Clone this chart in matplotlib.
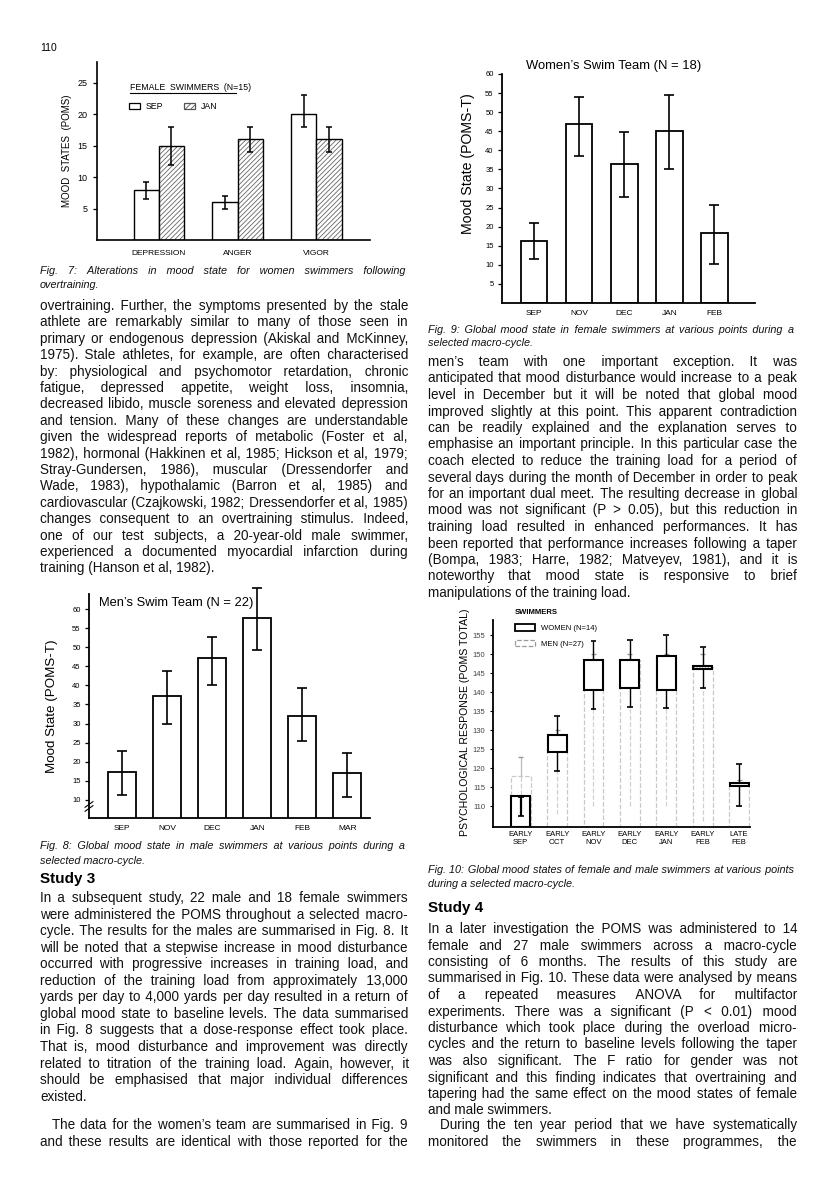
import matplotlib
matplotlib.use('Agg')
import matplotlib.pyplot as plt
from matplotlib.font_manager import FontProperties, findfont
from matplotlib.ft2font import FT2Font
from matplotlib.patches import Patch
from matplotlib.lines import Line2D
import numpy as np

W, H = 816, 1182
plt.rcParams['font.family'] = 'Liberation Sans'
plt.rcParams['hatch.linewidth'] = 0.6

# ---- Fig. 7: mood states, female swimmers (N=15)
fig7_groups = ['DEPRESSION', 'ANGER', 'VIGOR']
fig7_sep = [8.0, 6.0, 20.0]
fig7_sep_lo = [6.5, 5.0, 18.0]
fig7_sep_hi = [9.2, 7.0, 23.0]
fig7_jan = [15.0, 16.0, 16.0]
fig7_jan_lo = [12.0, 14.0, 14.0]
fig7_jan_hi = [18.0, 18.0, 18.0]

# ---- Fig. 8: men's swim team (N=22)
fig8_months = ['SEP', 'NOV', 'DEC', 'JAN', 'FEB', 'MAR']
fig8_mean = [17.2, 37.3, 47.3, 57.8, 32.0, 17.0]
fig8_lo = [11.2, 30.0, 40.0, 49.2, 25.5, 10.8]
fig8_hi = [22.7, 43.7, 52.8, 65.5, 39.3, 22.2]

# ---- Fig. 9: women's swim team (N=18)
fig9_months = ['SEP', 'NOV', 'DEC', 'JAN', 'FEB']
fig9_mean = [16.3, 46.8, 36.5, 45.0, 18.3]
fig9_lo = [11.5, 38.5, 27.8, 35.0, 10.3]
fig9_hi = [21.0, 54.0, 44.7, 54.5, 25.7]

# ---- Fig. 10: POMS total, women (N=14) and men (N=27)
fig10_labels = ['EARLY\nSEP', 'EARLY\nOCT', 'EARLY\nNOV', 'EARLY\nDEC',
                'EARLY\nJAN', 'EARLY\nFEB', 'LATE\nFEB']
women_lo = [107.5, 119.3, 135.6, 136.2, 135.7, 141.0, 110.0]
women_q1 = [104.5, 124.2, 140.5, 141.2, 140.6, 146.0, 115.2]
women_q3 = [112.7, 128.6, 148.6, 148.6, 149.6, 147.0, 116.0]
women_hi = [112.3, 133.8, 153.6, 153.7, 155.0, 152.0, 121.0]
men_lo = [106.0, 108.0, 110.0, 110.0, 110.0, 106.0, 110.0]
men_q3 = [118.0, 128.6, 148.6, 148.6, 149.6, 146.5, 116.0]
men_hi = [123.0, 130.0, 150.0, 150.0, 150.0, 150.0, 117.0]

# ---- page text
left_top = [
    "overtraining. Further, the symptoms presented by the stale",
    "athlete are remarkably similar to many of those seen in",
    "primary or endogenous depression (Akiskal and McKinney,",
    "1975). Stale athletes, for example, are often characterised",
    "by: physiological and psychomotor retardation, chronic",
    "fatigue, depressed appetite, weight loss, insomnia,",
    "decreased libido, muscle soreness and elevated depression",
    "and tension. Many of these changes are understandable",
    "given the widespread reports of metabolic (Foster et al,",
    "1982), hormonal (Hakkinen et al, 1985; Hickson et al, 1979;",
    "Stray-Gundersen, 1986), muscular (Dressendorfer and",
    "Wade, 1983), hypothalamic (Barron et al, 1985) and",
    "cardiovascular (Czajkowski, 1982; Dressendorfer et al, 1985)",
    "changes consequent to an overtraining stimulus. Indeed,",
    "one of our test subjects, a 20-year-old male swimmer,",
    "experienced a documented myocardial infarction during",
    "training (Hanson et al, 1982).",
]
study3 = [
    "In a subsequent study, 22 male and 18 female swimmers",
    "were administered the POMS throughout a selected macro-",
    "cycle. The results for the males are summarised in Fig. 8. It",
    "will be noted that a stepwise increase in mood disturbance",
    "occurred with progressive increases in training load, and",
    "reduction of the training load from approximately 13,000",
    "yards per day to 4,000 yards per day resulted in a return of",
    "global mood state to baseline levels. The data summarised",
    "in Fig. 8 suggests that a dose-response effect took place.",
    "That is, mood disturbance and improvement was directly",
    "related to titration of the training load. Again, however, it",
    "should be emphasised that major individual differences",
    "existed.",
]
left_tail = [
    "The data for the women\u2019s team are summarised in Fig. 9",
    "and these results are identical with those reported for the",
]
right_top = [
    "men\u2019s team with one important exception. It was",
    "anticipated that mood disturbance would increase to a peak",
    "level in December but it will be noted that global mood",
    "improved slightly at this point. This apparent contradiction",
    "can be readily explained and the explanation serves to",
    "emphasise an important principle. In this particular case the",
    "coach elected to reduce the training load for a period of",
    "several days during the month of December in order to peak",
    "for an important dual meet. The resulting decrease in global",
    "mood was not significant (P > 0.05), but this reduction in",
    "training load resulted in enhanced performances. It has",
    "been reported that performance increases following a taper",
    "(Bompa, 1983; Harre, 1982; Matveyev, 1981), and it is",
    "noteworthy that mood state is responsive to brief",
    "manipulations of the training load.",
]
study4 = [
    "In a later investigation the POMS was administered to 14",
    "female and 27 male swimmers across a macro-cycle",
    "consisting of 6 months. The results of this study are",
    "summarised in Fig. 10. These data were analysed by means",
    "of a repeated measures ANOVA for multifactor",
    "experiments. There was a significant (P < 0.01) mood",
    "disturbance which took place during the overload micro-",
    "cycles and the return to baseline levels following the taper",
    "was also significant. The F ratio for gender was not",
    "significant and this finding indicates that overtraining and",
    "tapering had the same effect on the mood states of female",
    "and male swimmers.",
]
right_tail = [
    "During the ten year period that we have systematically",
    "monitored the swimmers in these programmes, the",
]
cap7 = ["Fig. 7: Alterations in mood state for women swimmers following",
        "overtraining."]
cap8 = ["Fig. 8: Global mood state in male swimmers at various points during a",
        "selected macro-cycle."]
cap9 = ["Fig. 9: Global mood state in female swimmers at various points during a",
        "selected macro-cycle."]
cap10 = ["Fig. 10: Global mood states of female and male swimmers at various points",
         "during a selected macro-cycle."]

fig = plt.figure(figsize=(W / 100, H / 100), dpi=100)
renderer = fig.canvas.get_renderer()
HAIR = '\u200a'


def put(x, y, s, **kw):
    return fig.text(x / W, 1 - y / H, s, **kw)


def add_axes_px(left, top, right, bottom):
    return fig.add_axes([left / W, 1 - bottom / H, (right - left) / W, (bottom - top) / H])


def text_w(s, prop):
    return renderer.get_text_width_height_descent(s, prop, ismath=False)[0]


def has_char(prop, ch):
    return ord(ch) in FT2Font(findfont(prop)).get_charmap()


def fit_size(blocks, width, base, style='normal', cap=10.0):
    # largest size at which every line fits with ordinary word spaces
    prop = FontProperties(family='Liberation Sans', size=base, style=style)
    widest = max(text_w(line, prop) for lines in blocks for line in lines)
    return min(cap, base * width / widest * 0.995)


def draw_lines(lines, x0, x1, y_first, step, prop, last_left=True, indent=0):
    """Justify each line by padding the word gaps with hair spaces (one Text per line)."""
    use_hair = has_char(prop, HAIR)
    hair = text_w('a' + HAIR * 10 + 'a', prop) / 10 - text_w('aa', prop) / 10 if use_hair else 0
    for i, line in enumerate(lines):
        y = round(y_first + i * step) + 4
        left = x0 + (indent if i == 0 else 0)
        words = line.split()
        gaps = len(words) - 1
        if (last_left and i == len(lines) - 1) or gaps == 0 or hair <= 0:
            put(left, y, line, fontproperties=prop, va='baseline', color='#111')
            continue
        extra = max(0.0, (x1 - left) - text_w(line, prop))
        k = int(round(extra / hair))
        out = words[0]
        for g in range(gaps):
            n = (g + 1) * k // gaps - g * k // gaps
            out += ' ' + HAIR * n + words[g + 1]
        put(left, y, out, fontproperties=prop, va='baseline', color='#111')


def style_axes(ax, lw=1.1):
    for s in ['top', 'right']:
        ax.spines[s].set_visible(False)
    for s in ['left', 'bottom']:
        ax.spines[s].set_linewidth(lw)
    ax.set_facecolor('none')


# ---------------- body text ----------------
LX0, LX1, RX0, RX1 = 40, 408, 428, 797
body_size = fit_size([left_top, study3, left_tail, right_top, study4, right_tail], 368, 10.0, cap=10.2)
body = FontProperties(family='Liberation Sans', size=body_size)
cap_size = fit_size([cap7[:1], cap8[:1], cap9[:1], cap10[:1]], 366, 9.0, style='italic', cap=8.6)
capp = FontProperties(family='Liberation Sans', size=cap_size, style='italic')

put(40, 51, '110', fontsize=7.5, va='baseline')

draw_lines(left_top, LX0, LX1, 306, 16.4, body)
put(40, 883, 'Study 3', fontsize=11, fontweight='bold', va='baseline')
draw_lines(study3, LX0, LX1, 898, 16.55, body)
draw_lines(left_tail, LX0, LX1, 1125, 16.5, body, last_left=False, indent=12)

draw_lines(right_top, RX0, RX1, 362, 16.5, body)
put(428, 912, 'Study 4', fontsize=11, fontweight='bold', va='baseline')
draw_lines(study4, RX0, RX1, 929, 16.5, body)
draw_lines(right_tail, RX0, RX1, 1125, 16.5, body, last_left=False, indent=12)

draw_lines(cap7, LX0, LX1 - 3, 270, 13.5, capp)
draw_lines(cap9, RX0, RX1 - 3, 329, 13.5, capp)
draw_lines(cap8, LX0, LX1 - 3, 845, 15, capp)
draw_lines(cap10, RX0, RX1 - 3, 869, 14, capp)

# ---------------- Fig. 7 ----------------
ax7 = add_axes_px(97, 62, 370, 240)
x7 = np.arange(len(fig7_groups))
bw7 = 0.32
sep = np.array(fig7_sep)
jan = np.array(fig7_jan)
ax7.bar(x7 - bw7 / 2, sep, bw7, facecolor='white', edgecolor='black', lw=1.0, zorder=2)
ax7.bar(x7 + bw7 / 2, jan, bw7, facecolor='white', edgecolor='#666666', hatch='///////', lw=0, zorder=2)
ax7.bar(x7 + bw7 / 2, jan, bw7, fill=False, edgecolor='black', lw=1.0, zorder=3)
ax7.errorbar(x7 - bw7 / 2, sep, yerr=[sep - np.array(fig7_sep_lo), np.array(fig7_sep_hi) - sep],
             fmt='none', ecolor='black', elinewidth=1.1, capsize=2.5, capthick=1.1, zorder=4)
ax7.errorbar(x7 + bw7 / 2, jan, yerr=[jan - np.array(fig7_jan_lo), np.array(fig7_jan_hi) - jan],
             fmt='none', ecolor='black', elinewidth=1.1, capsize=2.5, capthick=1.1, zorder=4)
ax7.set_xlim(-0.785, 2.68)
ax7.set_ylim(0, 28.3)
style_axes(ax7, 1.2)
ax7.set_yticks([5, 10, 15, 20, 25])
ax7.tick_params(axis='y', labelsize=6.5, length=3, width=0.9, pad=4)
ax7.set_xticks(x7)
ax7.set_xticklabels(fig7_groups, fontsize=6)
ax7.tick_params(axis='x', length=0, pad=7)
put(67, 151, 'MOOD  STATES  (POMS)', fontsize=7, rotation=90, ha='center', va='center')
put(130, 90, 'FEMALE  SWIMMERS  (N=15)', fontsize=6.3, va='baseline')
fig.add_artist(Line2D([130 / W, 236 / W], [1 - 93 / H, 1 - 93 / H], color='black', lw=0.8))
ax7.legend(handles=[Patch(facecolor='white', edgecolor='black', lw=0.9),
                    Patch(facecolor='white', edgecolor='#555555', hatch='//////', lw=0.9)],
           labels=['SEP', 'JAN'], ncol=2, loc='upper left', bbox_to_anchor=(0.1, 0.8),
           frameon=False, fontsize=6.3, handlelength=1.3, handleheight=0.55,
           columnspacing=2.4, handletextpad=0.6, borderpad=0)

# ---------------- Fig. 9 ----------------
ax9 = add_axes_px(502, 74, 755, 303)
x9 = np.arange(len(fig9_months))
m9 = np.array(fig9_mean)
ax9.bar(x9, m9, 0.58, facecolor='white', edgecolor='black', lw=1.3, zorder=2)
ax9.errorbar(x9, m9, yerr=[m9 - np.array(fig9_lo), np.array(fig9_hi) - m9], fmt='none',
             ecolor='black', elinewidth=1.2, capsize=3.5, capthick=1.2, zorder=3)
ax9.set_xlim(-0.72, 4.9)
ax9.set_ylim(0, 60)
style_axes(ax9, 1.3)
ax9.set_yticks(np.arange(5, 61, 5))
ax9.tick_params(axis='y', labelsize=5.5, length=3, width=0.9, pad=3)
ax9.set_xticks(x9)
ax9.set_xticklabels(fig9_months, fontsize=6)
ax9.tick_params(axis='x', length=0, pad=5)
put(614, 66, 'Women\u2019s Swim Team (N = 18)', fontsize=9.4, ha='center', va='center')
put(468, 164, 'Mood State (POMS-T)', fontsize=10.2, rotation=90, ha='center', va='center')

# ---------------- Fig. 8 ----------------
ax8 = add_axes_px(89, 594, 370, 818)
x8 = np.arange(len(fig8_months))
m8 = np.array(fig8_mean)
ax8.bar(x8, m8, 0.62, facecolor='white', edgecolor='black', lw=1.3, zorder=2)
ax8.errorbar(x8, m8, yerr=[m8 - np.array(fig8_lo), np.array(fig8_hi) - m8], fmt='none',
             ecolor='black', elinewidth=1.2, capsize=3.5, capthick=1.2, zorder=3, clip_on=False)
ax8.set_xlim(-0.73, 5.5)
ax8.set_ylim(5.2, 64)
style_axes(ax8, 1.3)
ax8.set_yticks(np.arange(10, 61, 5))
ax8.tick_params(axis='y', labelsize=5.5, length=3, width=0.9, pad=3)
ax8.set_xticks(x8)
ax8.set_xticklabels(fig8_months, fontsize=6)
ax8.tick_params(axis='x', length=0, pad=5)
for dy in (0.0, 0.018):
    ax8.plot([-0.014, 0.014], [0.03 + dy, 0.055 + dy], transform=ax8.transAxes,
             color='black', lw=0.8, clip_on=False, zorder=5)
put(99, 603, 'Men\u2019s Swim Team (N = 22)', fontsize=9.3, va='center')
put(52, 706, 'Mood State (POMS-T)', fontsize=9.6, rotation=90, ha='center', va='center')

# ---------------- Fig. 10 ----------------
ax10 = add_axes_px(493, 620, 750, 827)
x10 = np.arange(len(fig10_labels))
bw10 = 0.52
ybot = 104.5
mq3 = np.array(men_q3)
ax10.bar(x10, mq3 - ybot, bw10 * 1.04, bottom=ybot, facecolor='none', edgecolor='#c8c8c8',
         linestyle='--', lw=0.9, zorder=1)
ax10.vlines(x10, men_lo, men_q3, colors='#d0d0d0', linestyles='--', lw=0.9, zorder=1)
ax10.vlines(x10, men_q3, men_hi, colors='#bbbbbb', lw=0.9, zorder=1)
ax10.hlines(men_hi, x10 - 0.07, x10 + 0.07, colors='#999999', lw=1.0, zorder=1)

wq1 = np.array(women_q1)
wq3 = np.array(women_q3)
boxes = ax10.bar(x10, wq3 - wq1, bw10, bottom=wq1, facecolor='white', edgecolor='black',
                 lw=1.5, zorder=3)
for b in list(boxes)[5:]:
    b.set_hatch('......')
for xi, lo, q1, q3, hi in zip(x10, women_lo, women_q1, women_q3, women_hi):
    if lo > q1:
        ax10.vlines(xi, lo, hi, colors='black', lw=1.6, zorder=4)
    else:
        ax10.vlines(xi, lo, q1, colors='black', lw=1.0, zorder=4)
        ax10.vlines(xi, q3, hi, colors='black', lw=1.0, zorder=4)
ax10.hlines(women_lo, x10 - 0.08, x10 + 0.08, colors='black', lw=1.2, zorder=4)
ax10.hlines(women_hi, x10 - 0.08, x10 + 0.08, colors='black', lw=1.2, zorder=4)
ax10.set_xlim(-0.76, 6.3)
ax10.set_ylim(ybot, 159)
style_axes(ax10, 1.3)
ax10.set_yticks(np.arange(110, 156, 5))
ax10.tick_params(axis='y', labelsize=5.5, length=2.5, width=0.8, pad=3, labelcolor='#444')
ax10.set_xticks(x10)
ax10.set_xticklabels(fig10_labels, fontsize=5.5, linespacing=1.1)
ax10.tick_params(axis='x', length=0, pad=3)
put(465, 722, 'PSYCHOLOGICAL RESPONSE (POMS TOTAL)', fontsize=7.6, rotation=90,
    ha='center', va='center')
leg = ax10.legend(handles=[Patch(facecolor='white', edgecolor='black', lw=1.3),
                           Patch(facecolor='white', edgecolor='#999999', lw=0.9, linestyle='--')],
                  labels=['WOMEN (N=14)', 'MEN (N=27)'], title='SWIMMERS',
                  title_fontproperties=FontProperties(family='Liberation Sans', size=5.5, weight='bold'),
                  loc='upper left', bbox_to_anchor=(0.07, 1.07), frameon=False, fontsize=5.5,
                  handlelength=2.6, handleheight=1.0, labelspacing=1.0, handletextpad=0.8,
                  borderpad=0)
leg._legend_box.align = 'left'

fig.savefig('out.png', dpi=100)
